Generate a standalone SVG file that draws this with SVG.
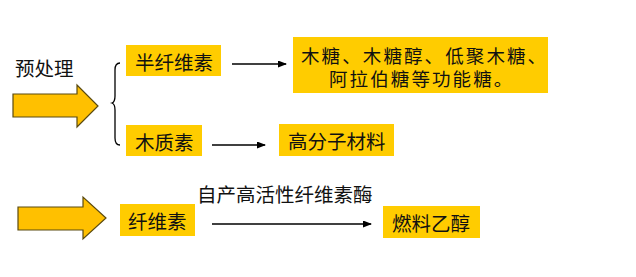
<svg xmlns="http://www.w3.org/2000/svg" width="636" height="277" viewBox="0 0 636 277">
<defs>
<style>
text{font-family:"Noto Sans CJK SC","Noto Sans",sans-serif;font-size:19.5px;fill:#111;dominant-baseline:central}
.sp{font-size:18.5px;letter-spacing:2.1px}
.box{fill:#FFCC00}
.big{fill:#FFC000;stroke:#5a4a10;stroke-width:1.2}
.ln{stroke:#000;stroke-width:1.3;fill:none}
</style>
<marker id="ah" markerWidth="9" markerHeight="7" refX="8" refY="3.5" orient="auto" markerUnits="userSpaceOnUse">
<path d="M0,0 L9,3.5 L0,7 z" fill="#000"/>
</marker>
</defs>
<rect width="636" height="277" fill="#fff"/>
<g id="pretreat"><text x="15" y="67">预处理</text></g>
<g id="bigarrow1"><path class="big" d="M13,94 H77 V85 L98,106 L77,127 V117 H13 Z"/></g>
<g id="brace"><path class="ln" stroke-width="1" stroke="#555" d="M120,63 Q115,63 115,70 V96 Q115,102 112,103 Q115,104 115,110 V138 Q115,145 120,145"/></g>
<g id="hemicellulose"><rect class="box" x="126" y="45" width="95" height="31"/><text x="135" y="61">半纤维素</text></g>
<g id="sugars"><rect class="box" x="293" y="37" width="255" height="56"/><text class="sp" x="301" y="54.5">木糖、木糖醇、低聚木糖、</text><text class="sp" x="329" y="77.5">阿拉伯糖等功能糖。</text></g>
<g id="lignin"><rect class="box" x="126" y="125" width="76" height="31"/><text x="135" y="141">木质素</text></g>
<g id="polymer"><rect class="box" x="279" y="124" width="115" height="32"/><text x="288" y="140">高分子材料</text></g>
<g id="bigarrow2"><path class="big" d="M18,207 H83 V197 L106,218 L83,239 V230 H18 Z"/></g>
<g id="cellulose"><rect class="box" x="120" y="204" width="75" height="32"/><text x="128" y="220">纤维素</text></g>
<g id="ethanol"><rect class="box" x="383" y="206" width="97" height="32"/><text x="392" y="222">燃料乙醇</text></g>
<g id="connectors">
<line class="ln" x1="232" y1="64" x2="286" y2="64" marker-end="url(#ah)"/>
<line class="ln" x1="212" y1="145" x2="265" y2="145" marker-end="url(#ah)"/>
<line class="ln" x1="212" y1="224" x2="371" y2="224" marker-end="url(#ah)"/>
<text x="197" y="193">自产高活性纤维素酶</text>
</g>
</svg>
